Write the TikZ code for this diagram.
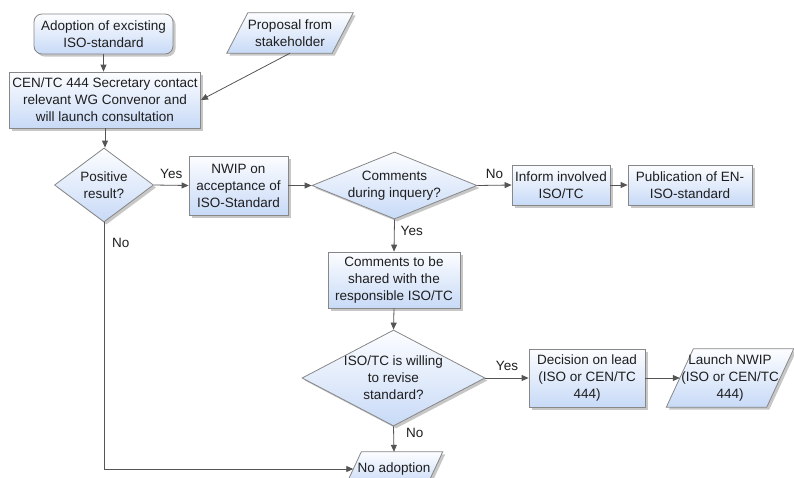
\documentclass[tikz,border=0pt]{standalone}
\usepackage{fontspec}
\setmainfont{Liberation Sans}
\usetikzlibrary{shapes.geometric,arrows.meta,shadows,backgrounds}
\definecolor{boxtop}{RGB}{252,253,255}
\definecolor{boxbot}{RGB}{200,218,247}
\definecolor{edgegray}{RGB}{135,135,135}
\definecolor{conngray}{RGB}{85,85,85}
\definecolor{txt}{RGB}{30,30,30}
\begin{document}
\begin{tikzpicture}[x=1pt,y=-1pt,
  every node/.style={font=\fontsize{13.5}{17}\selectfont, text=txt},
  shadowed/.style={drop shadow={shadow xshift=2.5pt,shadow yshift=-2.5pt,fill=black!40,opacity=0.55}},
  boxfill/.style={top color=boxtop,bottom color=boxbot,draw=edgegray,line width=0.8pt},
  procbox/.style={rectangle,boxfill,shadowed,inner sep=0pt,align=center},
  startbox/.style={procbox,rounded corners=8pt},
  decision/.style={diamond,boxfill,shadowed,inner sep=0pt,align=center},
  iobox/.style={rectangle,inner sep=0pt,align=center},
  iofill/.style={boxfill,shadowed},
  conn/.style={draw=conngray,line width=0.8pt,-{Triangle[length=7pt,width=6pt]}},
  lbl/.style={inner sep=0pt}]
\useasboundingbox (0,0) rectangle (794,477);
\clip (0,0) rectangle (794,477);

% nodes
\node[startbox, minimum width=139, minimum height=40] (start) at (103.5,34) {Adoption of excisting\\ISO-standard};
\node[iobox, minimum width=105, minimum height=40] (prop) at (290,33) {Proposal from\\stakeholder};
\node[procbox, minimum width=191, minimum height=56] (cen) at (105,100) {CEN/TC 444 Secretary contact\\relevant WG Convenor and\\will launch consultation};
\node[decision, aspect=1.34, minimum width=99, minimum height=74] (pos) at (104,185) {Positive\\result?};
\node[procbox, minimum width=99, minimum height=59] (nwip) at (238.5,185.5) {NWIP on\\acceptance of\\ISO-Standard};
\node[decision, aspect=2.46, minimum width=165, minimum height=67] (com) at (394.5,185.5) {Comments\\during inquery?};
\node[procbox, minimum width=98, minimum height=40] (inform) at (561,185) {Inform involved\\ISO/TC};
\node[procbox, minimum width=124, minimum height=40] (pub) at (690,185) {Publication of EN-\\ISO-standard};
\node[procbox, minimum width=132, minimum height=56] (share) at (394,280) {Comments to be\\shared with the\\responsible ISO/TC};
\node[decision, aspect=1.9, minimum width=183, minimum height=96] (iso) at (393.5,378) {ISO/TC is willing\\to revise\\standard?};
\node[iobox, minimum width=81, minimum height=34] (noad) at (394,469) {No adoption};
\node[procbox, minimum width=116, minimum height=58] (dec) at (587,378) {Decision on lead\\(ISO or CEN/TC\\444)};
\node[iobox, minimum width=100, minimum height=58] (launch) at (730,378) {Launch NWIP\\(ISO or CEN/TC\\444)};

% parallelogram outlines behind their texts
\begin{scope}[on background layer]
\path[iofill] ([xshift=10.5pt]prop.north west) -- ([xshift=10.5pt]prop.north east) -- ([xshift=-10.5pt]prop.south east) -- ([xshift=-10.5pt]prop.south west) -- cycle;
\path[iofill] ([xshift=8pt]noad.north west) -- ([xshift=8pt]noad.north east) -- ([xshift=-8pt]noad.south east) -- ([xshift=-8pt]noad.south west) -- cycle;
\path[iofill] ([xshift=13.5pt]launch.north west) -- ([xshift=13.5pt]launch.north east) -- ([xshift=-13.5pt]launch.south east) -- ([xshift=-13.5pt]launch.south west) -- cycle;
\end{scope}

% connectors
\draw[conn] (start.south) -- (start.south |- cen.north);
\draw[conn] (prop.south) -- (cen.east);
\draw[conn] (cen.south) -- (cen.south |- pos.north);
\draw[conn] (pos.east) -- node[lbl, above=6pt] {Yes} (nwip.west);
\draw[conn] (nwip.east) -- (com.west);
\draw[conn] (com.east) -- node[lbl, above=6pt] {No} (inform.west);
\draw[conn] (inform.east) -- (pub.west);
\draw[conn] (com.south) -- node[lbl, pos=0.35, right=6pt] {Yes} (share.north);
\draw[conn] (share.south) -- (iso.north);
\draw[conn] (iso.east) -- node[lbl, above=7pt] {Yes} (dec.west);
\draw[conn] (dec.east) -- (launch.west);
\draw[conn] (iso.south) -- node[lbl, pos=0.27, right=12pt] {No} (noad.north);
\draw[conn] (pos.south) |- (noad.west);
\node[lbl, anchor=west] (nolbl) at ([xshift=8pt,yshift=-21pt]pos.south) {No};
\end{tikzpicture}
\end{document}
